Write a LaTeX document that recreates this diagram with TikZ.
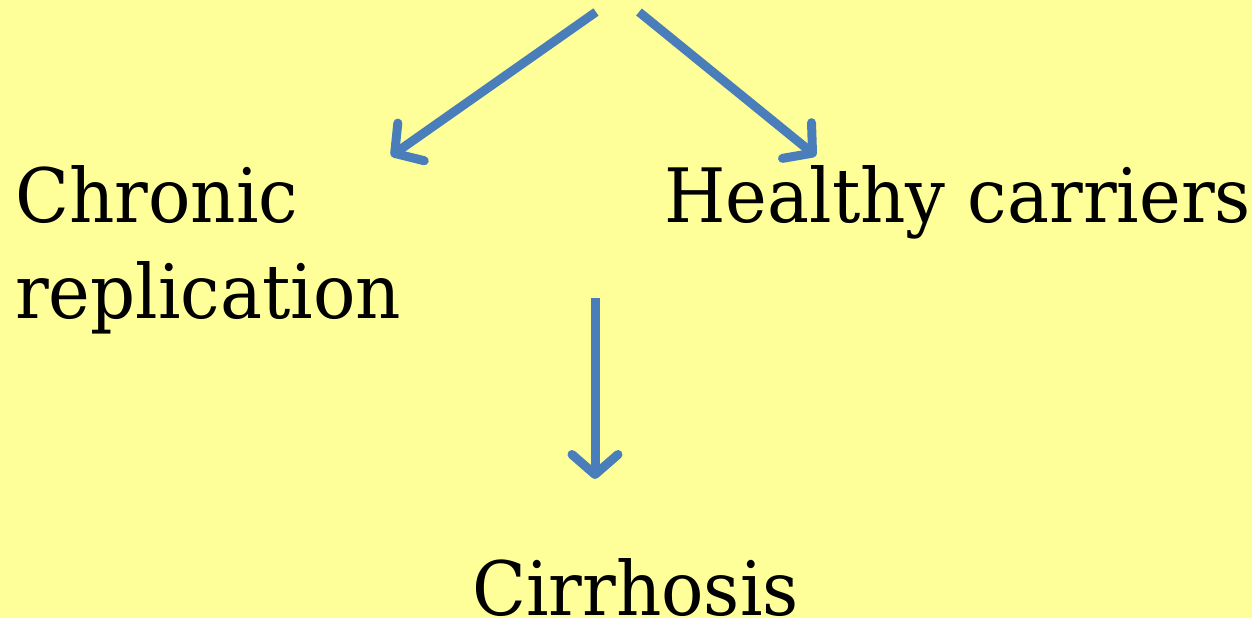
\documentclass[tikz,border=0pt]{standalone}
\usepackage{fontspec}
\setmainfont[FakeStretch=0.94]{DejaVu Serif}
\usetikzlibrary{arrows.meta}
\definecolor{bg}{HTML}{FFFF99}
\definecolor{arr}{HTML}{4A7EBB}
\tikzset{
  lbl/.style={inner sep=0pt, anchor=base west, font=\fontsize{75}{96}\selectfont, align=left},
  flow/.style={draw=arr, line width=9pt, line cap=butt, -{Straight Barb[length=20pt,width=46pt,round]}}
}
\begin{document}
\begin{tikzpicture}[x=1pt,y=-1pt]
\fill[bg] (0,0) rectangle (1252,618);
\useasboundingbox (0,0) rectangle (1252,618);
\node[lbl] (chronic) at (15,222) {Chronic};
\node[lbl] (repl) at (15,318) {replication};
\node[lbl] (healthy) at (664,222) {Healthy carriers};
\node[lbl] (cirr) at (472,615) {Cirrhosis};
\coordinate (s1) at (596,12);
\coordinate (s2) at (639,12);
\coordinate (s3) at (595,298);
\coordinate (e1) at (391,156);
\coordinate (e2) at (816,156);
\coordinate (e3) at (595,479);
\draw[flow] (s1) -- (e1);
\draw[flow] (s2) -- (e2);
\draw[flow] (s3) -- (e3);
\end{tikzpicture}
\end{document}
